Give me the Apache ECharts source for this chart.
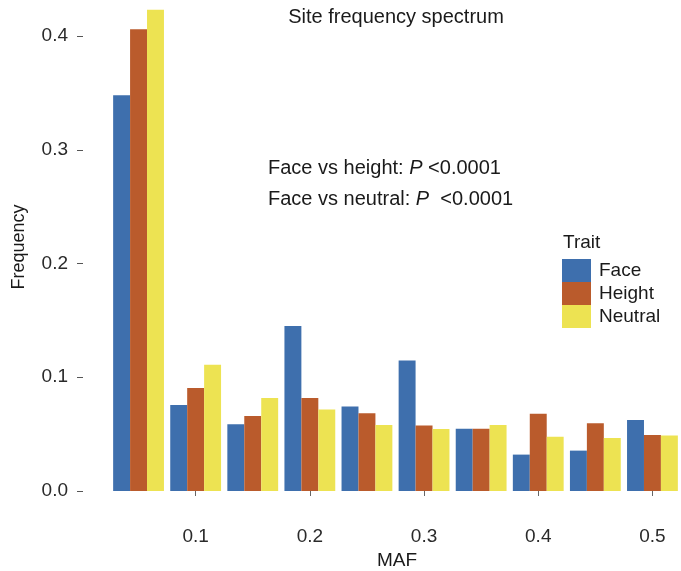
<!DOCTYPE html>
<html>
<head>
<meta charset="utf-8">
<script src="https://cdn.jsdelivr.net/npm/echarts@6/dist/echarts.min.js"></script>
<style>html,body{margin:0;padding:0;background:#fff}#c{width:681px;height:571px}</style>
</head>
<body>
<div id="c"></div>
<script>
var categories = ['0.05','0.1','0.15','0.2','0.25','0.3','0.35','0.4','0.45','0.5'];
var face    = [0.348, 0.0757, 0.0587, 0.145, 0.0742, 0.1147, 0.0548, 0.032, 0.0355, 0.0625];
var height  = [0.406, 0.0905, 0.066, 0.0818, 0.0683, 0.0575, 0.0548, 0.068, 0.0595, 0.0493];
var neutral = [0.423, 0.111, 0.0818, 0.0716, 0.058, 0.0545, 0.058, 0.0478, 0.0466, 0.0487];
var seriesNames = ['Face','Height','Neutral'];
var colors = ['#3E6FAD','#BA5B2C','#EDE352'];
var shownXLabels = ['0.1','0.2','0.3','0.4','0.5'];

var font = 'Liberation Sans, Arial, Helvetica, sans-serif';
var chart = echarts.init(document.getElementById('c'));
function showIdx(i){ return shownXLabels.indexOf(categories[i]) >= 0; }
var allData = [face, height, neutral];
chart.setOption({
  animation: false,
  backgroundColor: '#fff',
  textStyle: {fontFamily: font},
  grid: {left: 110, top: 36, width: 575, height: 455, containLabel: false},
  xAxis: {
    type: 'category', data: categories, offset: 25,
    axisLine: {show: false},
    axisTick: {show: true, alignWithLabel: true, length: 5, interval: function(i){return showIdx(i);}, lineStyle: {color: '#666'}},
    axisLabel: {interval: function(i){return showIdx(i);}, fontSize: 19, color: '#2a2a2a', margin: 11, fontFamily: font},
    splitLine: {show: false}
  },
  yAxis: {
    type: 'value', min: 0, max: 0.4, interval: 0.1, offset: 27,
    axisLine: {show: false},
    axisTick: {show: true, length: 6, lineStyle: {color: '#555'}},
    axisLabel: {fontSize: 19, color: '#2a2a2a', margin: 15, fontFamily: font,
      formatter: function(v){ return v.toFixed(1); }},
    splitLine: {show: false}
  },
  legend: {
    orient: 'vertical', left: 562, top: 259, padding: 0, itemWidth: 29, itemHeight: 23, itemGap: 0,
    icon: 'rect', data: seriesNames,
    textStyle: {fontSize: 19, color: '#1a1a1a', fontFamily: font, lineHeight: 23, padding: [0,0,0,3]}
  },
  graphic: [
    {type: 'text', x: 396, y: 17, style: {text: 'Site frequency spectrum', font: '20px ' + font, fill: '#1a1a1a', textAlign: 'center', textVerticalAlign: 'middle'}},
    {type: 'text', x: 268, y: 168, style: {text: 'Face vs height: {i|P} <0.0001', font: '20px ' + font, fill: '#1a1a1a', textVerticalAlign: 'middle', rich: {i: {fontStyle: 'italic', fontSize: 20, fontFamily: font}}}},
    {type: 'text', x: 268, y: 199, style: {text: 'Face vs neutral: {i|P}  <0.0001', font: '20px ' + font, fill: '#1a1a1a', textVerticalAlign: 'middle', rich: {i: {fontStyle: 'italic', fontSize: 20, fontFamily: font}}}},
    {type: 'text', x: 563, y: 243, style: {text: 'Trait', font: '19px ' + font, fill: '#1a1a1a', textVerticalAlign: 'middle'}},
    {type: 'text', x: 397, y: 561, style: {text: 'MAF', font: '19px ' + font, fill: '#1a1a1a', textAlign: 'center', textVerticalAlign: 'middle'}},
    {type: 'text', x: 19, y: 247, rotation: Math.PI/2, style: {text: 'Frequency', font: '18px ' + font, fill: '#1a1a1a', textAlign: 'center', textVerticalAlign: 'middle'}}
  ],
  series: seriesNames.map(function(n, k){
    return {name: n, type: 'bar', data: allData[k], barGap: '0%', barCategoryGap: '11%', clip: false,
      itemStyle: {color: colors[k]}};
  })
});
</script>
</body>
</html>
